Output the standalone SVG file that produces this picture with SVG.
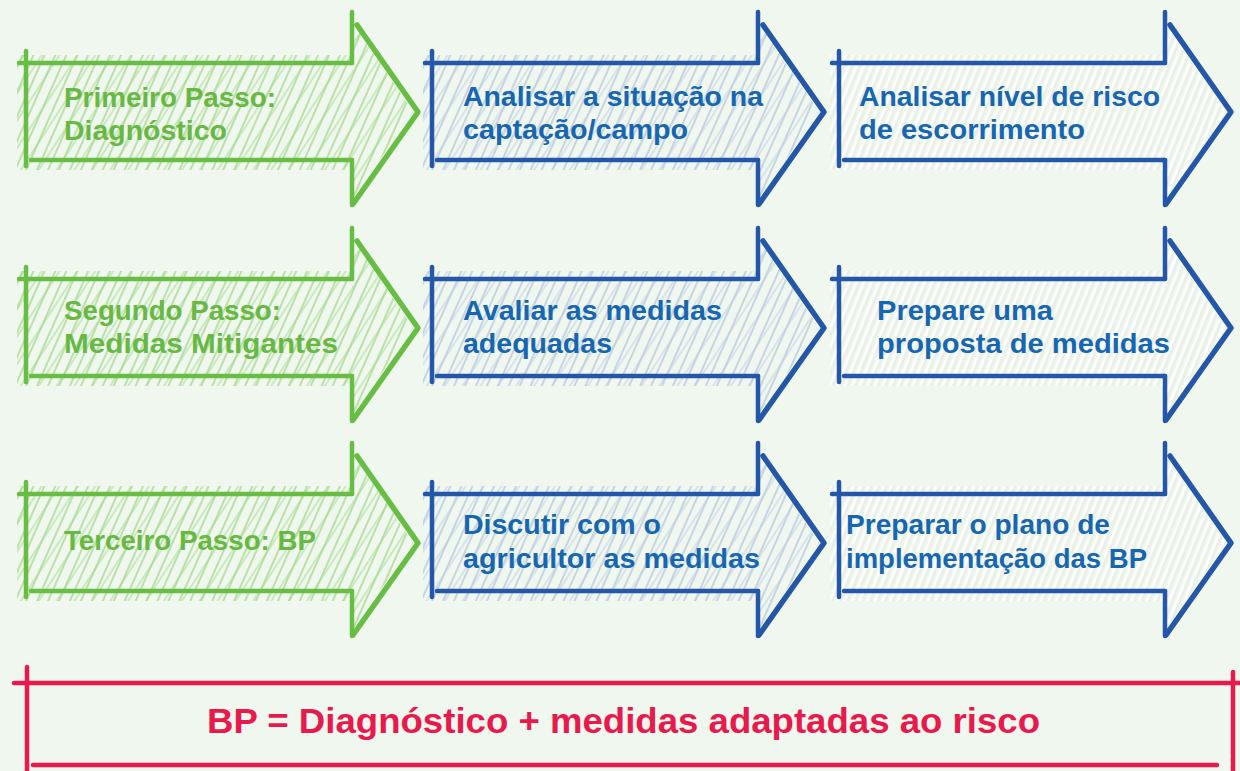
<svg xmlns="http://www.w3.org/2000/svg" xmlns:xlink="http://www.w3.org/1999/xlink" width="1240" height="771" viewBox="0 0 1240 771">
<style>
.ol{fill:none;stroke:currentColor;stroke-linecap:round;stroke-linejoin:round;stroke-width:4.5}
.ol .d{stroke-width:5.5}
.g{color:#68bd45}
.b{color:#2457a8}
.t{font-family:"Liberation Sans",Arial,sans-serif;font-weight:bold;font-size:28px}
.g .t{fill:#67b944}
.b .t{fill:#1766b1}
.red{fill:none;stroke:#e8194d;stroke-width:4.5;stroke-linecap:round}
.rt{font-family:"Liberation Sans",Arial,sans-serif;font-weight:bold;font-size:35px;fill:#e8194d}
</style>
<defs>
<pattern id="hg" width="10" height="10" patternUnits="userSpaceOnUse" patternTransform="rotate(24)">
<line x1="3" y1="0" x2="3" y2="10" stroke="#94d27a" stroke-width="1.2"/>
</pattern>
<pattern id="hg2" width="15" height="15" patternUnits="userSpaceOnUse" patternTransform="rotate(33)">
<line x1="5" y1="0" x2="5" y2="15" stroke="#a6db8f" stroke-width="1"/>
</pattern>
<pattern id="hb" width="10" height="10" patternUnits="userSpaceOnUse" patternTransform="rotate(24)">
<line x1="3" y1="0" x2="3" y2="10" stroke="#a9bedc" stroke-width="1.2"/>
</pattern>
<pattern id="hb2" width="15" height="15" patternUnits="userSpaceOnUse" patternTransform="rotate(33)">
<line x1="5" y1="0" x2="5" y2="15" stroke="#bfcfe6" stroke-width="1"/>
</pattern>
<pattern id="hw" width="7" height="7" patternUnits="userSpaceOnUse" patternTransform="rotate(22)">
<line x1="2" y1="0" x2="2" y2="7" stroke="#ffffff" stroke-width="2"/>
<line x1="5" y1="0" x2="5" y2="7" stroke="#dfe3df" stroke-width="0.8"/>
</pattern>
<path id="fs" d="M17,55 H352 V20 L413,112 L352,200 V170 H17 Z"/>
<g id="ol" class="ol">
<path d="M26,51 V166"/>
<path d="M19,63 H352"/>
<path d="M31,160 H352"/>
<path d="M352,12 V63"/>
<path d="M352,160 V205"/>
<path class="d" d="M357,25 L418,112 L353,204"/>
</g>
</defs>
<rect width="1240" height="771" fill="#f0f7ee"/>

<g id="n1" class="g">
<use href="#fs" fill="url(#hg)"/><use href="#fs" fill="url(#hg2)"/><use href="#ol"/>
<text class="t" x="64" y="107" textLength="212" lengthAdjust="spacingAndGlyphs">Primeiro Passo:</text>
<text class="t" x="64" y="140" textLength="163" lengthAdjust="spacingAndGlyphs">Diagnóstico</text>
</g>
<g id="n2" class="b">
<use href="#fs" transform="translate(406,0)" fill="url(#hb)"/><use href="#fs" transform="translate(406,0)" fill="url(#hb2)"/><use href="#ol" transform="translate(406,0)"/>
<text class="t" x="463" y="106" textLength="300" lengthAdjust="spacingAndGlyphs">Analisar a situação na</text>
<text class="t" x="463" y="139" textLength="225" lengthAdjust="spacingAndGlyphs">captação/campo</text>
</g>
<g id="n3" class="b">
<use href="#fs" transform="translate(813,0)" fill="url(#hw)"/><use href="#ol" transform="translate(813,0)"/>
<text class="t" x="859" y="106" textLength="301" lengthAdjust="spacingAndGlyphs">Analisar nível de risco</text>
<text class="t" x="859" y="139" textLength="226" lengthAdjust="spacingAndGlyphs">de escorrimento</text>
</g>

<g id="n4" class="g">
<use href="#fs" transform="translate(0,216)" fill="url(#hg)"/><use href="#fs" transform="translate(0,216)" fill="url(#hg2)"/><use href="#ol" transform="translate(0,216)"/>
<text class="t" x="64" y="320" textLength="217" lengthAdjust="spacingAndGlyphs">Segundo Passo:</text>
<text class="t" x="64" y="353" textLength="274" lengthAdjust="spacingAndGlyphs">Medidas Mitigantes</text>
</g>
<g id="n5" class="b">
<use href="#fs" transform="translate(406,216)" fill="url(#hb)"/><use href="#fs" transform="translate(406,216)" fill="url(#hb2)"/><use href="#ol" transform="translate(406,216)"/>
<text class="t" x="463" y="320" textLength="259" lengthAdjust="spacingAndGlyphs">Avaliar as medidas</text>
<text class="t" x="463" y="353" textLength="149" lengthAdjust="spacingAndGlyphs">adequadas</text>
</g>
<g id="n6" class="b">
<use href="#fs" transform="translate(813,216)" fill="url(#hw)"/><use href="#ol" transform="translate(813,216)"/>
<text class="t" x="877" y="320" textLength="176" lengthAdjust="spacingAndGlyphs">Prepare uma</text>
<text class="t" x="877" y="353" textLength="293" lengthAdjust="spacingAndGlyphs">proposta de medidas</text>
</g>

<g id="n7" class="g">
<use href="#fs" transform="translate(0,431)" fill="url(#hg)"/><use href="#fs" transform="translate(0,431)" fill="url(#hg2)"/><use href="#ol" transform="translate(0,431)"/>
<text class="t" x="64" y="550" textLength="252" lengthAdjust="spacingAndGlyphs">Terceiro Passo: BP</text>
</g>
<g id="n8" class="b">
<use href="#fs" transform="translate(406,431)" fill="url(#hb)"/><use href="#fs" transform="translate(406,431)" fill="url(#hb2)"/><use href="#ol" transform="translate(406,431)"/>
<text class="t" x="463" y="534" textLength="198" lengthAdjust="spacingAndGlyphs">Discutir com o</text>
<text class="t" x="463" y="568" textLength="297" lengthAdjust="spacingAndGlyphs">agricultor as medidas</text>
</g>
<g id="n9" class="b">
<use href="#fs" transform="translate(813,431)" fill="url(#hw)"/><use href="#ol" transform="translate(813,431)"/>
<text class="t" x="846" y="534" textLength="264" lengthAdjust="spacingAndGlyphs">Preparar o plano de</text>
<text class="t" x="846" y="568" textLength="301" lengthAdjust="spacingAndGlyphs">implementação das BP</text>
</g>

<g id="summary">
<path class="red" d="M14,683 H1240"/>
<path class="red" d="M27,667 V771"/>
<path class="red" d="M33,765 H1217"/>
<path class="red" d="M1233,672 V771"/>
<text class="rt" x="207" y="733" textLength="833" lengthAdjust="spacingAndGlyphs">BP = Diagnóstico + medidas adaptadas ao risco</text>
</g>
<g id="connectors"></g>
</svg>
